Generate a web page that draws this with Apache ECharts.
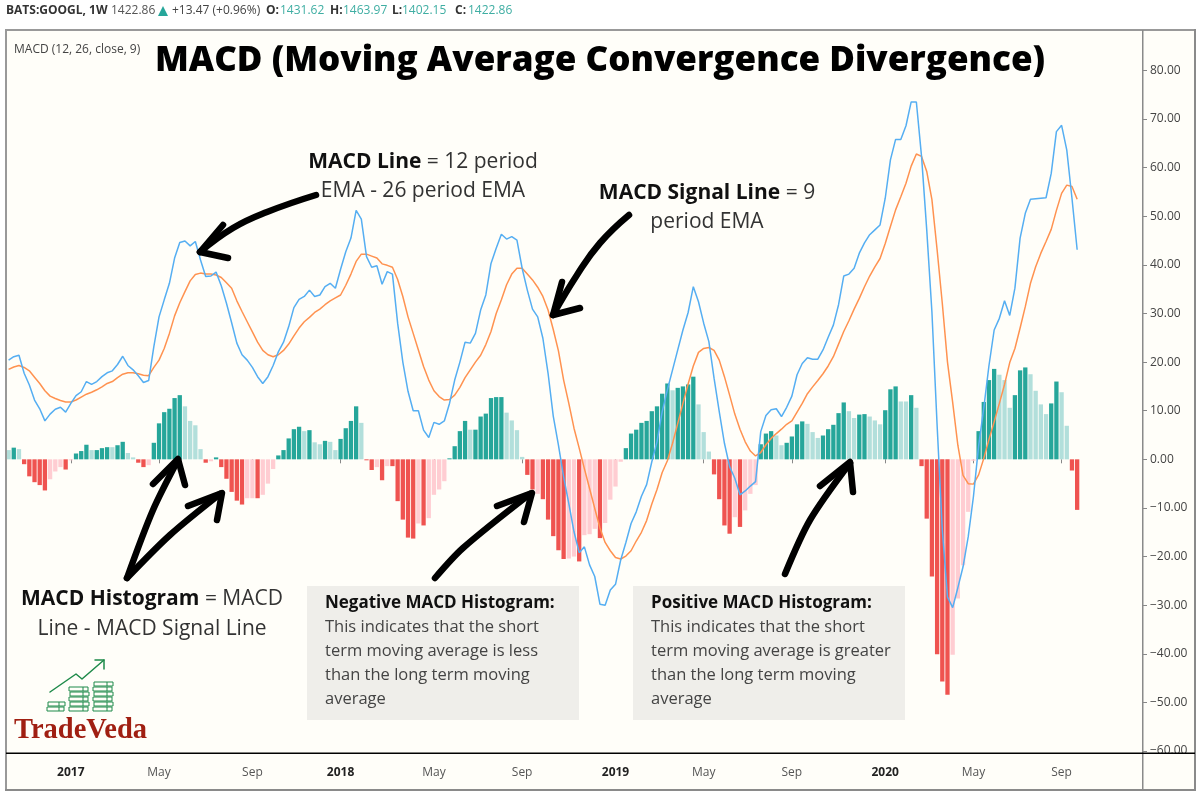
<!DOCTYPE html>
<html>
<head>
<meta charset="utf-8">
<style>html,body{margin:0;padding:0;background:#fff}#c{width:1200px;height:800px}</style>
<script src="https://cdn.jsdelivr.net/npm/echarts@6/dist/echarts.min.js"></script>
</head>
<body>
<div id="c"></div>
<script>
const weekCount = 219;
const tickWeeks = [12,29,47,64,82,99,117,134,151,169,186,203];
const tickLabels = ['2017','May','Sep','2018','May','Sep','2019','May','Sep','2020','May','Sep'];
const yTicks = [-60,-50,-40,-30,-20,-10,0,10,20,30,40,50,60,70,80];

const histogram = [
1.9,2.4,2.1,-1.0,-3.5,-4.7,-5.3,-6.4,-4.1,-2.5,
-1.6,-2.1,-0.2,1.2,1.7,3.0,1.9,1.9,2.3,2.5,
2.5,2.9,3.6,1.3,0.4,-0.7,-1.6,-1.2,3.4,7.4,
9.7,10.4,12.6,13.2,10.9,7.9,7.0,2.1,-0.7,-0.4,
0.4,-1.6,-4.0,-6.7,-8.5,-9.3,-8.0,-8.0,-8.0,-7.3,
-5.0,-2.0,0.8,1.9,4.3,6.2,6.7,5.8,6.0,3.5,
3.1,3.8,3.6,1.9,4.2,6.4,7.9,10.9,7.5,-0.2,
-2.2,-1.6,-4.3,-1.4,-1.4,-8.6,-12.4,-16.1,-16.3,-13.2,
-13.6,-12.1,-7.3,-6.2,-4.5,0.2,2.7,5.8,7.9,6.1,
6.1,8.8,9.4,12.6,12.8,12.8,9.6,8.0,6.0,0.5,
-3.2,-6.2,-7.1,-8.2,-12.4,-15.8,-18.7,-20.5,-20.4,-20.0,
-21.0,-15.6,-15.4,-14.3,-16.2,-13.1,-8.3,-5.6,-0.5,2.3,
5.3,6.1,7.5,7.9,9.9,10.9,13.5,15.6,14.2,14.7,
15.0,15.4,17.0,11.3,5.6,1.6,-3.1,-8.2,-13.6,-15.3,
-11.9,-13.9,-10.5,-7.1,-5.3,3.1,5.3,5.8,4.9,2.9,
3.4,4.7,7.2,7.8,7.3,5.6,4.4,4.9,6.2,7.1,
9.5,11.7,9.9,8.5,9.2,9.3,8.8,8.0,7.2,10.1,
14.4,15.0,11.9,11.9,13.2,10.6,-1.4,-12.2,-24.1,-40.1,
-45.7,-48.4,-40.2,-28.6,-21.8,-10.8,-0.3,5.8,11.8,16.3,
18.6,17.4,16.3,10.6,13.2,18.3,18.9,17.5,14.1,11.3,
9.3,11.5,16.0,13.8,6.9,-2.3,-10.4];

const histogramStrong = [
0,1,0,1,1,1,1,1,0,0,
0,1,0,1,1,1,0,1,1,1,
0,1,1,0,0,1,1,0,1,1,
1,1,1,1,0,0,0,0,1,0,
1,1,1,1,1,1,0,0,1,0,
0,0,1,1,1,1,1,0,1,0,
0,1,0,0,1,1,1,1,0,1,
1,0,1,0,1,1,1,1,1,0,
1,0,0,0,0,1,1,1,1,0,
1,1,1,1,1,1,0,0,0,0,
1,1,0,1,1,1,1,1,0,0,
1,0,0,0,1,0,0,0,0,1,
1,1,1,1,1,1,1,1,0,1,
1,1,1,0,0,0,1,1,1,1,
0,1,0,0,0,1,1,1,0,0,
1,1,1,1,0,0,0,1,1,1,
1,1,0,0,1,1,0,0,0,1,
1,1,0,0,1,0,1,1,1,1,
1,1,0,0,0,0,0,1,1,1,
1,0,0,0,1,1,1,0,0,0,
0,1,1,0,0,1,1];

const macdLine = [
20.4,21.1,21.4,17.7,15.3,12.2,10.4,7.9,9.3,10.3,
10.7,9.7,11.5,13.1,13.9,16.0,15.4,16.0,17.0,17.8,
18.2,19.5,21.2,19.3,18.4,17.2,15.8,16.2,23.2,29.3,
32.8,36.2,41.4,44.6,44.9,43.9,44.8,41.0,37.6,37.7,
38.5,35.7,32.1,28.1,23.9,21.5,20.4,18.9,17.0,15.6,
17.0,19.3,22.1,24.1,27.3,31.2,32.9,33.5,34.8,33.5,
33.8,35.5,36.2,35.2,39.1,42.7,45.5,51.2,49.4,41.7,
39.5,39.8,36.0,38.6,38.1,28.0,20.0,14.0,10.0,10.0,
6.0,4.5,7.6,7.2,7.9,11.5,16.3,20.0,24.1,23.9,
25.9,30.7,33.8,40.3,43.4,46.3,45.3,45.8,45.1,39.3,
34.8,30.9,29.3,24.9,17.7,8.9,2.9,-3.6,-9.1,-14.9,
-19.2,-18.0,-21.7,-24.1,-29.8,-30.0,-26.9,-25.7,-20.7,-17.1,
-13.2,-10.8,-7.6,-5.2,-0.5,3.6,9.8,14.3,18.4,22.5,
26.6,30.2,35.5,32.4,28.0,24.2,16.7,9.8,3.3,-1.5,
-3.9,-7.3,-6.5,-5.5,-4.6,5.7,9.0,10.2,10.4,8.8,
10.7,13.0,17.4,19.7,20.9,20.6,20.6,22.5,25.1,27.6,
31.8,37.7,38.1,39.3,42.4,44.5,46.2,47.2,48.2,53.7,
61.6,65.8,65.8,68.6,73.5,73.5,62.3,47.2,30.3,7.0,
-14.5,-28.3,-30.5,-26.4,-22.1,-15.9,-7.7,2.7,10.6,19.3,
26.6,29.0,32.6,29.6,35.2,45.5,50.6,53.5,53.6,53.7,
53.8,58.8,67.4,68.7,63.6,53.7,43.1];

const signalLine = [
18.5,19.0,19.3,18.9,18.2,16.9,15.6,14.1,13.0,12.5,
12.1,11.8,11.8,12.2,12.8,13.4,13.8,14.3,14.9,15.6,
16.0,16.8,17.5,17.8,17.8,17.6,17.3,17.2,18.9,20.4,
22.8,25.9,29.5,32.2,34.5,36.7,38.0,38.3,38.1,38.1,
37.9,37.4,36.3,35.2,32.6,30.4,28.3,26.2,24.1,22.4,
21.5,21.1,21.5,22.4,23.7,25.4,27.0,28.3,29.2,30.2,
30.9,31.8,32.6,33.2,33.8,35.8,38.1,40.7,42.2,42.2,
41.8,41.4,40.2,39.9,39.5,37.0,33.5,29.3,25.9,22.5,
19.1,16.3,14.1,12.9,12.2,12.3,13.2,14.8,16.8,18.4,
20.0,21.4,23.6,26.3,30.0,32.8,35.9,38.1,39.3,39.3,
38.1,36.9,35.4,33.5,30.7,26.7,22.3,16.3,11.5,6.4,
2.3,-1.9,-6.0,-10.1,-14.1,-17.1,-18.8,-20.2,-20.5,-19.9,
-18.8,-16.8,-15.0,-12.6,-9.2,-6.2,-2.7,-0.3,3.3,7.4,
11.5,15.5,19.2,22.0,22.8,23.0,22.4,20.4,17.0,13.2,
9.3,6.2,3.6,1.7,0.7,1.4,3.0,4.3,5.3,6.2,
7.2,7.9,9.7,11.5,13.5,14.9,16.2,17.6,19.2,21.1,
23.7,26.3,28.5,30.9,33.1,35.5,37.7,39.6,41.3,44.4,
47.9,51.3,54.0,56.8,60.3,62.8,62.3,59.2,53.4,43.1,
32.1,20.0,11.7,2.9,-3.3,-5.0,-5.1,-3.2,0.2,4.1,
7.7,11.5,15.4,19.9,22.8,27.0,31.4,36.2,39.6,42.4,
44.8,47.3,51.2,54.7,56.4,56.1,53.5];

const weekLabels = Array.from({length: weekCount}, () => '');
tickWeeks.forEach((w, k) => { weekLabels[w] = tickLabels[k]; });

const FONT = '"Open Sans"';
const INK = '#333333';
const BG = '#FFFEF9';
const graphics = [];
function rect(x, y, w, h, fill, z) { graphics.push({type:'rect', silent:true, z: z===undefined?50:z, shape:{x,y,width:w,height:h}, style:{fill}}); }
function txt(x, y, text, o) {
  o = o || {};
  graphics.push({type:'text', silent:true, z:60, x, y, style:{text, x:0, y:0, fill:o.fill||INK, font:(o.weight||(o.bold?'bold':''))+' '+(o.size||12)+'px '+(o.family||FONT), textAlign:o.align||'left', textVerticalAlign:'middle', rich:o.rich}});
}
function pen(points, width, color, smooth) { graphics.push({type:'polyline', silent:true, z:55, shape:{points, smooth:smooth||0}, style:{stroke:color||'#000', lineWidth:width||6, lineCap:'round', lineJoin:'round', fill:'none'}}); }

// panel and frame
rect(6,30,1189,760,BG,-10);
rect(5,29,1191,2,'#999999',70);
rect(5,29,2,762,'#999999',70);
rect(5,789,1191,2,'#8a8a8a',70);
rect(1194,29,2,762,'#8a8a8a',70);
rect(1142,30,1.5,760,'#8a8a8a',70);
rect(1144,754,50,6,BG,69);
rect(6,752.5,1189,1.6,'#000000',70);

// header
const HEAD = 12;
txt(6,11,'BATS:GOOGL, 1W',{bold:true,size:HEAD});
txt(111,11,'1422.86',{size:HEAD,fill:'#555'});
graphics.push({type:'polygon',silent:true,z:60,shape:{points:[[163,6],[168,16],[158,16]]},style:{fill:'#26A69A'}});
txt(172,11,'+13.47 (+0.96%)',{size:HEAD,fill:'#444'});
txt(266,11,'O:',{bold:true,size:HEAD});
txt(280,11,'1431.62',{size:HEAD,fill:'#3FAEA3'});
txt(330,11,'H:',{bold:true,size:HEAD});
txt(343,11,'1463.97',{size:HEAD,fill:'#3FAEA3'});
txt(392,11,'L:',{bold:true,size:HEAD});
txt(402,11,'1402.15',{size:HEAD,fill:'#3FAEA3'});
txt(455,11,'C:',{bold:true,size:HEAD});
txt(468,11,'1422.86',{size:HEAD,fill:'#3FAEA3'});
txt(14,50,'MACD (12, 26, close, 9)',{size:12,fill:'#444'});

// title
txt(600,61,'MACD (Moving Average Convergence Divergence)',{weight:'800',size:35,fill:'#000',align:'center'});

// annotations
const richA = {b:{font:'bold 21px '+FONT,fill:'#111'}, n:{font:'21px '+FONT,fill:INK}};
txt(423,162,'{b|MACD Line} {n|= 12 period}',{align:'center',size:21,rich:richA});
txt(423,191,'EMA - 26 period EMA',{align:'center',size:21});
txt(707,193,'{b|MACD Signal Line} {n|= 9}',{align:'center',size:21,rich:richA});
txt(707,222,'period EMA',{align:'center',size:21});
txt(152,599,'{b|MACD Histogram} {n|= MACD}',{align:'center',size:21,rich:richA});
txt(152,629,'Line - MACD Signal Line',{align:'center',size:21});

rect(307,586,272,134,'#EFEEEA',1);
rect(633,586,272,134,'#EFEEEA',1);
const boxA = ['This indicates that the short','term moving average is less','than the long term moving','average'];
const boxB = ['This indicates that the short','term moving average is greater','than the long term moving','average'];
txt(325,603,'Negative MACD Histogram:',{bold:true,size:17,fill:'#111'});
txt(651,603,'Positive MACD Histogram:',{bold:true,size:17,fill:'#111'});
boxA.forEach((t,k)=>txt(325,627+24*k,t,{size:16.5,fill:'#444'}));
boxB.forEach((t,k)=>txt(651,627+24*k,t,{size:16.5,fill:'#444'}));

// hand-drawn arrows
const W = 6.5;
pen([[316,195],[267,212],[233,228],[200,252]],W,'#000',0.45);
pen([[223,225],[200,252],[228,258]],W);
pen([[629,215],[600,243],[577,275],[553,315]],W,'#000',0.45);
pen([[562,282],[553,315],[580,308]],W);
pen([[127,578],[153,510],[178,460]],W,'#000',0.3);
pen([[153,484],[178,459],[185,485]],W);
pen([[127,578],[170,535],[220,494]],W,'#000',0.3);
pen([[188,506],[222,493],[217,520]],W);
pen([[435,578],[463,548],[530,494]],W,'#000',0.3);
pen([[497,506],[532,493],[524,522]],W);
pen([[785,574],[810,520],[850,463]],W,'#000',0.3);
pen([[820,486],[850,462],[853,492]],W);

// logo
const GREEN = '#1E8A4A';
pen([[50,692],[76,674],[82,679],[104,660]],1.5,GREEN);
pen([[95,660],[104,660],[104,669]],1.5,GREEN);
function stack(x,w,n){ for(let k=0;k<n;k++){ graphics.push({type:'rect',silent:true,z:55,shape:{x:x+(k%2)*1,y:707-k*5,width:w,height:4},style:{fill:'none',stroke:GREEN,lineWidth:1}}); graphics.push({type:'line',silent:true,z:55,shape:{x1:x+w-5,y1:707-k*5,x2:x+w-5,y2:711-k*5},style:{stroke:GREEN,lineWidth:1}}); } }
stack(47,17,2); stack(69,19,5); stack(93,19,6);
txt(14,731,'TradeVeda',{bold:true,size:28.5,fill:'#A01F12',family:'"Liberation Serif"'});

const chart = echarts.init(document.getElementById('c'), null, {renderer:'canvas'});
chart.setOption({
  animation:false,
  backgroundColor:'#ffffff',
  graphic:{elements:graphics},
  grid:{left:6,right:58,top:30,height:723,containLabel:false},
  xAxis:{
    type:'category',data:weekLabels,boundaryGap:true,
    axisLine:{show:false},
    axisTick:{show:true,alignWithLabel:true,length:4,lineStyle:{color:'#888'},interval:(i)=>tickWeeks.includes(i)},
    axisLabel:{show:true,interval:(i)=>tickWeeks.includes(i),margin:14,fontFamily:FONT,fontSize:12,color:'#555',
      formatter:(v)=>/^\d/.test(v)?'{y|'+v+'}':v,
      rich:{y:{fontFamily:FONT,fontSize:12,fontWeight:'bold',color:'#222'}}},
    splitLine:{show:false}
  },
  yAxis:{
    type:'value',position:'right',min:-60.4,max:88.3,scale:false,
    axisLine:{show:false},
    splitLine:{show:false},
    axisTick:{show:true,length:5,lineStyle:{color:'#888'},customValues:yTicks},
    axisLabel:{show:true,customValues:yTicks,margin:8,fontFamily:'"Open Sans"',fontSize:12,color:'#444',
      formatter:(v)=>(v<0?'\u2212':'')+Math.abs(v).toFixed(2)}
  },
  series:[
    {type:'bar',data:histogram,barWidth:4.3,z:2,
      itemStyle:{color:(p)=>{const s=histogramStrong[p.dataIndex];return p.value>=0?(s?'#26A69A':'#B2DFDB'):(s?'#EF5350':'#FFCDD2');}}},
    {type:'line',data:signalLine,showSymbol:false,smooth:false,z:3,lineStyle:{color:'#FF9250',width:1.5}},
    {type:'line',data:macdLine,showSymbol:false,smooth:false,z:4,lineStyle:{color:'#55AEF2',width:1.5}}
  ]
});
</script>
</body>
</html>
